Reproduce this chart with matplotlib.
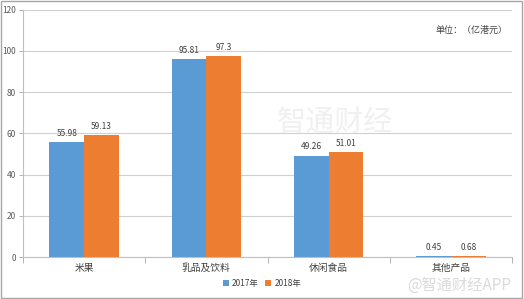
import numpy as np
import matplotlib.pyplot as plt
from matplotlib.patches import Rectangle

plt.rcParams['font.family'] = ['Noto Sans CJK SC', 'DejaVu Sans']

categories = ['米果', '乳品及饮料', '休闲食品', '其他产品']
v2017 = [55.98, 95.81, 49.26, 0.45]
v2018 = [59.13, 97.3, 51.01, 0.68]
labels2017 = ['55.98', '95.81', '49.26', '0.45']
labels2018 = ['59.13', '97.3', '51.01', '0.68']
yticks = [0, 20, 40, 60, 80, 100, 120]

fig = plt.figure(figsize=(5.24, 2.99), dpi=100)
ax = fig.add_axes([0.044, 0.140, 0.933, 0.828])

x = np.arange(len(categories))
w = 0.285
b1 = ax.bar(x - w / 2, v2017, w, color='#5B9BD5', label='2017年')
b2 = ax.bar(x + w / 2, v2018, w, color='#ED7D31', label='2018年')
for xi, v, t in zip(x - w / 2, v2017, labels2017):
    ax.text(xi, v + 2, t, ha='center', va='bottom', fontsize=6, color='#404040')
for xi, v, t in zip(x + w / 2, v2018, labels2018):
    ax.text(xi, v + 2, t, ha='center', va='bottom', fontsize=6, color='#404040')

ax.set_xlim(-0.5, 3.5)
ax.set_ylim(0, 120)
ax.set_yticks(yticks)
ax.tick_params(axis='y', labelsize=6, colors='#595959', length=3, width=0.6, color='#A6A6A6', pad=2)
ax.set_xticks(x)
ax.set_xticklabels(categories, fontsize=7, color='#404040')
ax.set_xticks(np.arange(-0.5, 4.0, 1.0), minor=True)
ax.tick_params(axis='x', which='major', length=0, pad=4)
ax.tick_params(axis='x', which='minor', length=4, width=0.6, color='#A6A6A6')
ax.grid(axis='y', color='#D0D0D0', linewidth=0.8)
ax.set_axisbelow(True)
for s in ['top', 'right']:
    ax.spines[s].set_visible(False)
ax.spines['left'].set_color('#BFBFBF')
ax.spines['bottom'].set_color('#BFBFBF')

ax.text(0.99, 0.915, '单位：（亿港元）', transform=ax.transAxes, ha='right', va='center',
        fontsize=6.5, color='#404040')

fig.legend(handles=[b1, b2], loc='center', bbox_to_anchor=(0.5, 0.052), ncol=2, frameon=False,
           fontsize=6, handlelength=0.7, handleheight=0.7, columnspacing=0.8, handletextpad=0.4,
           labelcolor='#404040')

# faint watermarks
fig.text(0.64, 0.585, '智通财经', ha='center', va='center', fontsize=21, color='#F0F0F0', zorder=0)
fig.text(0.975, 0.045, '@智通财经APP', ha='right', va='center', fontsize=11, color='#DADADA')

fig.patches.append(Rectangle((0.002, 0.003), 0.995, 0.994, transform=fig.transFigure,
                             fill=False, edgecolor='#A6A6A6', linewidth=1))

fig.savefig('out.png', dpi=100)
